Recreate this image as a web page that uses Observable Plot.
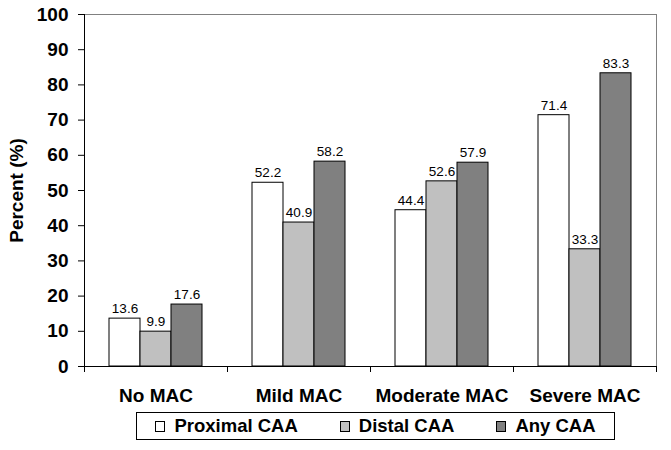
<!DOCTYPE html>
<html>
<head>
<meta charset="utf-8">
<script src="https://cdn.jsdelivr.net/npm/d3@7"></script>
<script src="https://cdn.jsdelivr.net/npm/@observablehq/plot@0.6"></script>
<style>
  body { margin: 0; background: white; }
  #wrap { position: relative; width: 671px; height: 450px; font-family: 'Liberation Sans', Arial, sans-serif; }
  #legend { position: absolute; left: 136px; top: 412px; width: 477px; height: 26px; border: 1px solid black;
    display: flex; align-items: center; justify-content: center; gap: 42px; font-weight: bold; font-size: 18.5px; }
  .item { display: flex; align-items: center; gap: 9px; }
  .sw { width: 8px; height: 9px; border: 1px solid black; }
</style>
</head>
<body>
<div id="wrap"><div id="chart"></div><div id="legend"></div></div>
<script>
const groups = ["No MAC", "Mild MAC", "Moderate MAC", "Severe MAC"];
const series = ["Proximal CAA", "Distal CAA", "Any CAA"];
const proximal = [13.6, 52.2, 44.4, 71.4];
const distal = [9.9, 40.9, 52.6, 33.3];
const anyCAA = [17.6, 58.2, 57.9, 83.3];
const yTicks = [0, 10, 20, 30, 40, 50, 60, 70, 80, 90, 100];
const colors = ["#ffffff", "#c0c0c0", "#808080"];

const seriesValues = [proximal, distal, anyCAA];
const data = groups.flatMap((g, i) => series.map((s, j) => ({group: g, series: s, value: seriesValues[j][i]})));

const chart = Plot.plot({
  width: 671,
  height: 450,
  marginLeft: 83,
  marginRight: 15,
  marginTop: 14,
  marginBottom: 84,
  style: {fontFamily: "'Liberation Sans', Arial, sans-serif", background: "white", color: "black"},
  fx: {domain: groups, padding: 0, label: null},
  x: {domain: series, paddingInner: 0, paddingOuter: 0.74, axis: null},
  y: {domain: [0, 100]},
  color: {domain: series, range: colors},
  marks: [
    Plot.ruleY([100], {stroke: "#808080", strokeWidth: 1}),
    Plot.barY(data, {fx: "group", x: "series", y: "value", fill: "series", stroke: "black", strokeWidth: 1}),
    Plot.text(data, {fx: "group", x: "series", y: "value", text: d => d.value.toFixed(1), dy: -10, fontSize: 13.5, fill: "black"}),
    Plot.ruleY([0], {stroke: "black", strokeWidth: 1}),
    Plot.axisY({ticks: yTicks, tickSize: 6, tickPadding: 10, fontSize: 19, fontWeight: "bold",
      label: "Percent (%)", labelAnchor: "center", labelArrow: "none", labelOffset: 75}),
    Plot.axisFx({anchor: "bottom", tickSize: 0, tickPadding: 22, fontSize: 19, fontWeight: "bold", label: null})
  ]
});

// axis lines and group-boundary ticks from the library's scales
const svg = d3.select(chart);
const fx = chart.scale("fx");
const y = chart.scale("y");
const y0 = y.apply(0), y1 = y.apply(100);
const left = fx.apply(groups[0]);
const right = fx.apply(groups[groups.length - 1]) + fx.bandwidth;
const g = svg.append("g");
g.append("line").attr("x1", right + 0.5).attr("x2", right + 0.5).attr("y1", y1).attr("y2", y0).attr("stroke", "#808080");
g.append("line").attr("x1", left + 0.5).attr("x2", left + 0.5).attr("y1", y1).attr("y2", y0).attr("stroke", "black");
const bounds = groups.map(v => fx.apply(v)).concat([right]);
bounds.forEach(b => g.append("line").attr("x1", b + 0.5).attr("x2", b + 0.5).attr("y1", y0).attr("y2", y0 + 6).attr("stroke", "black"));

document.getElementById("chart").append(chart);

const legend = document.getElementById("legend");
series.forEach((s, j) => {
  const item = document.createElement("div");
  item.className = "item";
  const sw = document.createElement("div");
  sw.className = "sw";
  sw.style.background = colors[j];
  const t = document.createElement("span");
  t.textContent = s;
  item.append(sw, t);
  legend.append(item);
});
</script>
</body>
</html>
